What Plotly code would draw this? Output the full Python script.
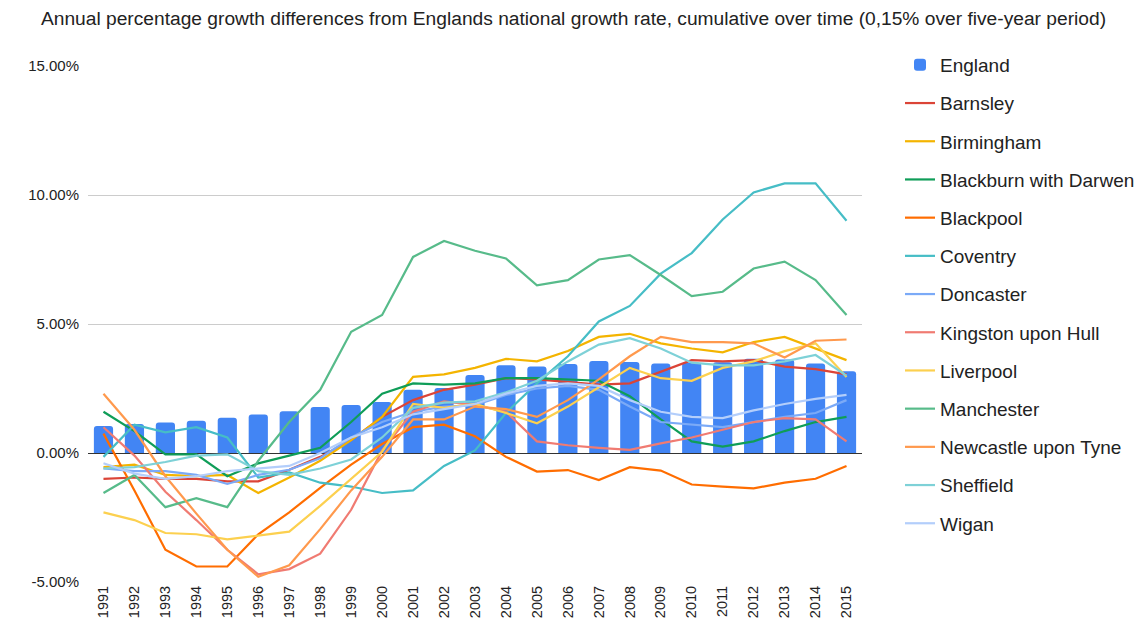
import plotly.graph_objects as go

years = [str(y) for y in range(1991, 2016)]

england = [1.05, 1.12, 1.18, 1.25, 1.37, 1.49, 1.62, 1.78, 1.86, 1.98, 2.45, 2.52, 3.02,
           3.40, 3.35, 3.45, 3.57, 3.53, 3.47, 3.50, 3.52, 3.65, 3.62, 3.47, 3.17]
barnsley = [-1.0, -0.95, -1.0, -1.0, -1.1, -1.1, -0.65, -0.15, 0.5, 1.4, 2.05, 2.45, 2.65,
            2.9, 2.85, 2.75, 2.65, 2.7, 3.15, 3.6, 3.55, 3.6, 3.35, 3.25, 3.05]
birmingham = [-0.55, -0.45, -0.85, -0.9, -0.85, -1.55, -0.95, -0.3, 0.5, 1.4, 2.95, 3.05, 3.3,
              3.65, 3.55, 3.95, 4.5, 4.62, 4.25, 4.05, 3.9, 4.3, 4.5, 4.05, 3.6]
blackburn = [1.6, 0.85, -0.05, -0.05, -0.9, -0.4, -0.1, 0.2, 1.2, 2.3, 2.7, 2.65, 2.7,
             2.9, 2.9, 2.85, 2.8, 2.2, 1.3, 0.45, 0.25, 0.45, 0.85, 1.2, 1.4]
blackpool = [0.75, -1.45, -3.75, -4.4, -4.4, -3.15, -2.3, -1.35, -0.45, 0.35, 1.0, 1.1, 0.65,
             -0.15, -0.72, -0.66, -1.05, -0.55, -0.68, -1.22, -1.3, -1.37, -1.15, -1.0, -0.5]
coventry = [-0.15, 1.1, 0.8, 1.0, 0.6, -0.95, -0.75, -1.15, -1.3, -1.55, -1.45, -0.5, 0.1,
            1.55, 2.7, 3.75, 5.1, 5.7, 6.95, 7.75, 9.05, 10.1, 10.45, 10.45, 9.0]
doncaster = [-0.6, -0.7, -0.7, -0.85, -1.2, -0.85, -0.65, -0.2, 0.6, 1.2, 1.6, 1.8, 1.85,
             2.25, 2.5, 2.6, 2.45, 1.8, 1.2, 1.1, 1.0, 1.2, 1.4, 1.55, 2.05]
kingston = [1.0, -0.1, -1.5, -2.6, -3.75, -4.7, -4.5, -3.9, -2.2, 0.1, 1.6, 2.0, 1.85,
            1.6, 0.45, 0.3, 0.2, 0.12, 0.37, 0.6, 0.9, 1.2, 1.35, 1.3, 0.45]
liverpool = [-2.3, -2.6, -3.1, -3.15, -3.35, -3.2, -3.05, -2.05, -1.0, 0.05, 1.9, 1.75, 1.9,
             1.55, 1.15, 1.8, 2.55, 3.3, 2.9, 2.8, 3.3, 3.55, 3.95, 4.25, 2.95]
manchester = [-1.55, -0.85, -2.1, -1.75, -2.1, -0.3, 1.2, 2.45, 4.7, 5.35, 7.6, 8.22, 7.84,
              7.54, 6.5, 6.7, 7.5, 7.67, 6.9, 6.08, 6.25, 7.15, 7.42, 6.7, 5.35]
newcastle = [2.3, 0.9, -0.9, -2.35, -3.75, -4.8, -4.35, -2.95, -1.45, -0.15, 1.3, 1.3, 1.8,
             1.7, 1.4, 2.05, 2.85, 3.75, 4.5, 4.3, 4.3, 4.25, 3.7, 4.35, 4.4]
sheffield = [-0.6, -0.55, -0.35, -0.1, -0.05, -0.7, -0.85, -0.6, -0.25, 0.6, 1.75, 1.95, 2.0,
             2.35, 2.8, 3.55, 4.2, 4.45, 4.05, 3.5, 3.4, 3.4, 3.55, 3.8, 3.0]
wigan = [-0.4, -0.8, -1.0, -0.9, -0.7, -0.6, -0.5, 0.0, 0.6, 1.0, 1.5, 1.7, 1.9,
         2.3, 2.6, 2.7, 2.6, 2.05, 1.6, 1.4, 1.35, 1.65, 1.9, 2.1, 2.25]

areas = [
    ("Barnsley", barnsley, "#DB4437"),
    ("Birmingham", birmingham, "#F4B400"),
    ("Blackburn with Darwen", blackburn, "#0F9D58"),
    ("Blackpool", blackpool, "#FF6D00"),
    ("Coventry", coventry, "#46BDC6"),
    ("Doncaster", doncaster, "#7BAAF7"),
    ("Kingston upon Hull", kingston, "#F07B72"),
    ("Liverpool", liverpool, "#FCD04F"),
    ("Manchester", manchester, "#57BB8A"),
    ("Newcastle upon Tyne", newcastle, "#FF994D"),
    ("Sheffield", sheffield, "#7ED1D7"),
    ("Wigan", wigan, "#B3CEFB"),
]

y_ticks = [-5, 0, 5, 10, 15]
FONT = "Liberation Sans, Arial, sans-serif"

fig = go.Figure()
fig.add_trace(go.Bar(
    x=years, y=england, name="England", marker_color="#4285F4",
    marker_line_width=0, legendgroup="England",
))
for name, vals, color in areas:
    fig.add_trace(go.Scatter(
        x=years, y=vals, name=name, mode="lines",
        line=dict(color=color, width=2.2), legendgroup=name,
    ))

fig.update_layout(
    width=1147, height=637,
    margin=dict(l=88, r=285, t=66, b=55, autoexpand=False),
    paper_bgcolor="white", plot_bgcolor="white",
    font=dict(family=FONT, color="#222222"),
    bargap=0.38, barcornerradius=3,
    title=dict(
        text="Annual percentage growth differences from Englands national growth rate, "
             "cumulative over time (0,15% over five-year period)",
        x=0.5, xanchor="center", y=0.972, yanchor="middle",
        font=dict(size=19.2, color="#222222", family=FONT),
    ),
    legend=dict(
        xref="container", yref="container", x=900 / 1147, xanchor="left",
        y=1 - 46 / 637, yanchor="top", maxheight=620,
        font=dict(size=19, color="#222222", family=FONT),
        tracegroupgap=10.5, itemwidth=30, bgcolor="rgba(0,0,0,0)",
    ),
    showlegend=True,
)
fig.update_xaxes(
    type="category", tickangle=-90, showgrid=False, ticks="",
    tickfont=dict(size=14.5, color="#222222"), showline=False,
)
fig.update_yaxes(
    range=[-5, 15], tickvals=y_ticks,
    ticktext=[f"{v:.2f}%" for v in y_ticks],
    showgrid=True, gridcolor="#cccccc", gridwidth=1,
    zeroline=True, zerolinecolor="#333333", zerolinewidth=1.3,
    tickfont=dict(size=15, color="#222222"), ticks="", ticklabelstandoff=8,
)

fig.write_html("out.html")
